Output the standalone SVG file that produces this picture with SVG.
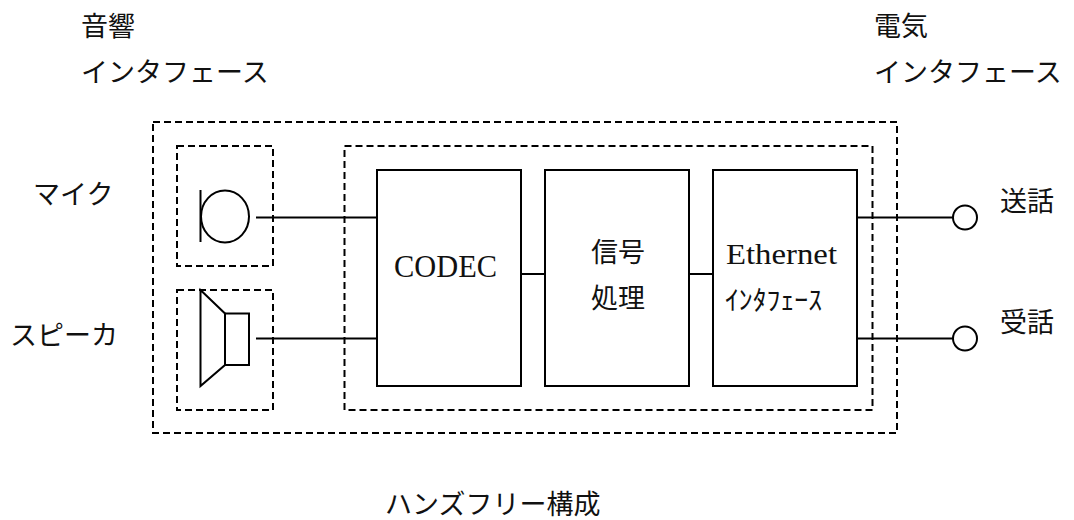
<svg xmlns="http://www.w3.org/2000/svg" width="1074" height="520" viewBox="0 0 1074 520">
<style>
.dash{fill:none;stroke:#000;stroke-width:2;stroke-dasharray:7 4}
.box{fill:#fff;stroke:#000;stroke-width:2}
.ln{fill:none;stroke:#000;stroke-width:2}
.jp{font-family:"Noto Sans CJK JP","Noto Sans CJK SC",sans-serif;font-size:27px;fill:#111}
.en{font-family:"Liberation Serif",serif;fill:#111}
</style>
<rect width="1074" height="520" fill="#fff"/>
<g id="labels">
<text class="jp" x="81" y="36">音響</text>
<text class="jp" x="81" y="82" font-size="28">インタフェース</text>
<text class="jp" x="874" y="36">電気</text>
<text class="jp" x="874" y="82" font-size="28">インタフェース</text>
<text class="jp" x="33" y="204">マイク</text>
<text class="jp" x="10" y="345">スピーカ</text>
<text class="jp" x="385" y="514" font-size="28">ハンズフリー構成</text>
</g>
<g id="groups">
<rect id="system" class="dash" x="153" y="122" width="744" height="311"/>
<rect id="mic-box" class="dash" x="177" y="146" width="96" height="120"/>
<rect id="spk-box" class="dash" x="177" y="290" width="96" height="120"/>
<rect id="proc-box" class="dash" x="344.5" y="146" width="528" height="264"/>
</g>
<g id="connectors">
<line class="ln" x1="256" y1="217.5" x2="377" y2="217.5"/>
<line class="ln" x1="256" y1="338.5" x2="377" y2="338.5"/>
<line class="ln" x1="521" y1="274" x2="545" y2="274"/>
<line class="ln" x1="689" y1="274" x2="713" y2="274"/>
<line class="ln" x1="857" y1="217.5" x2="953" y2="217.5"/>
<line class="ln" x1="857" y1="338.5" x2="953" y2="338.5"/>
</g>
<g id="mic">
<line class="ln" x1="200.5" y1="190" x2="200.5" y2="242"/>
<ellipse class="ln" cx="225" cy="216.5" rx="24" ry="26"/>
</g>
<g id="speaker">
<path class="ln" d="M200.5 290 L225 313.5 L225 365 L200.5 386 Z"/>
<rect class="ln" x="225" y="313.5" width="24" height="51.5"/>
</g>
<g id="codec">
<rect class="box" x="377" y="170" width="144" height="216"/>
<text class="en" x="394" y="277" font-size="31" textLength="103" lengthAdjust="spacingAndGlyphs">CODEC</text>
</g>
<g id="signal">
<rect class="box" x="545" y="170" width="144" height="216"/>
<text class="jp" x="591" y="262" font-size="28">信号</text>
<text class="jp" x="591" y="308" font-size="28">処理</text>
</g>
<g id="ethernet">
<rect class="box" x="713" y="170" width="144" height="216"/>
<text class="en" x="726" y="264" font-size="29" textLength="111" lengthAdjust="spacingAndGlyphs">Ethernet</text>
<text class="jp" x="725" y="310" font-size="26" textLength="97" lengthAdjust="spacingAndGlyphs">ｲﾝﾀﾌｪｰｽ</text>
</g>
<g id="tx">
<circle class="box" cx="965" cy="217.5" r="12"/>
<text class="jp" x="1000" y="211">送話</text>
</g>
<g id="rx">
<circle class="box" cx="965" cy="338.5" r="12"/>
<text class="jp" x="1000" y="332">受話</text>
</g>
</svg>
